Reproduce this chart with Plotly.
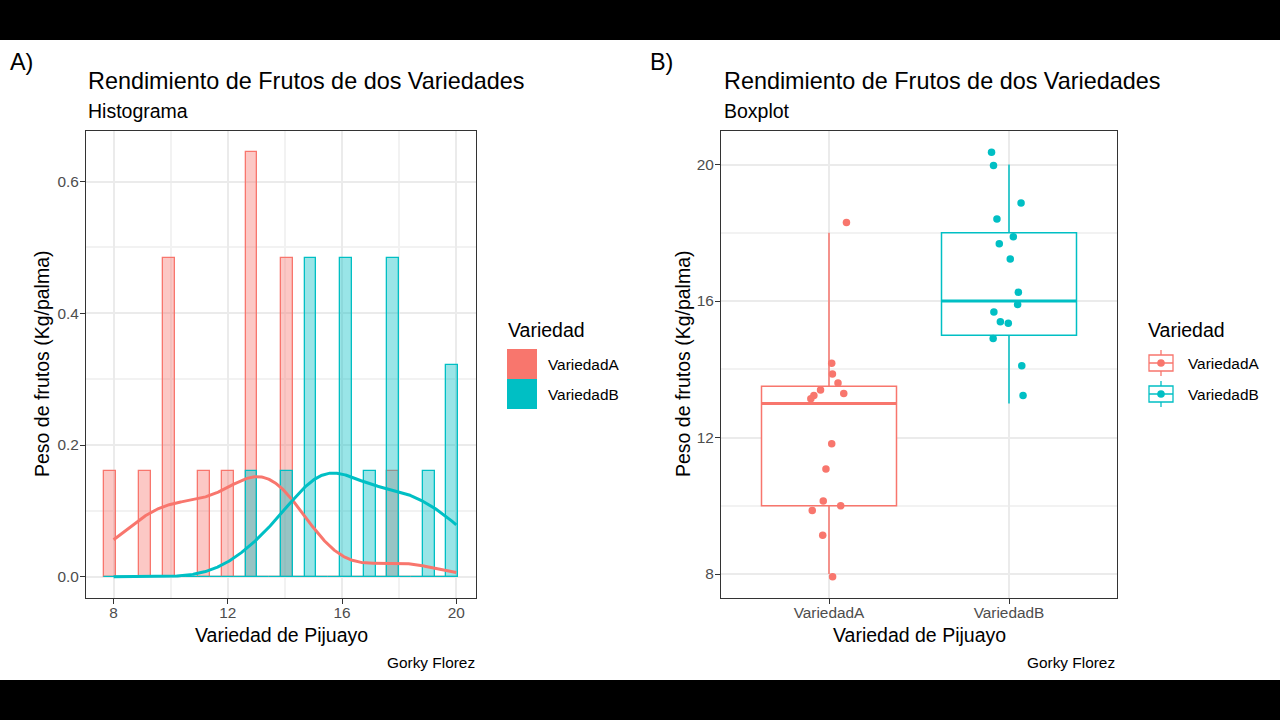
import numpy as np
import plotly.graph_objects as go

# ---------------- data ----------------
categories = ["VariedadA", "VariedadB"]
peso_A = [8, 9, 10, 10, 10, 11, 12, 13, 13, 13, 13, 14, 14, 14, 18]
peso_B = [13, 14, 15, 15, 15, 16, 16, 16, 17, 18, 18, 18, 19, 20, 20]

# jittered point positions
jit_y_A = [18.30, 14.18, 13.86, 13.60, 13.39, 13.29, 13.23, 13.14, 11.82, 11.08, 10.14, 10.00, 9.86, 9.14, 7.92]
jit_dx_A = [0.097, 0.015, 0.019, 0.050, -0.047, 0.082, -0.084, -0.101, 0.015, -0.017, -0.032, 0.065, -0.093, -0.035, 0.020]
jit_y_B = [20.36, 19.97, 18.87, 18.40, 17.88, 17.68, 17.23, 16.26, 15.90, 15.68, 15.39, 15.35, 14.90, 14.10, 13.23]
jit_dx_B = [-0.097, -0.086, 0.067, -0.067, 0.024, -0.054, 0.007, 0.052, 0.048, -0.084, -0.048, -0.004, -0.088, 0.071, 0.078]

hist_ticks = [8, 12, 16, 20]
dens_ticks = [0.0, 0.2, 0.4, 0.6]
box_ticks = [8, 12, 16, 20]

colors = ["#F8766D", "#00BFC4"]
fills = ["rgba(248,118,109,0.4)", "rgba(0,191,196,0.4)"]
groups = [peso_A, peso_B]
jit_y = [jit_y_A, jit_y_B]
jit_dx = [jit_dx_A, jit_dx_B]

W, H = 1280, 720
def px(x):
    return x / W
def py(y):
    return 1 - y / H

# ---------------- histogram bins (ggplot-style, bins = 30) ----------------
allv = np.array(peso_A + peso_B, dtype=float)
lo, hi = allv.min(), allv.max()
nb = 30
w = (hi - lo) / (nb - 1)
boundary = w / 2
origin = boundary + np.floor((lo - boundary) / w) * w
nbins = int(np.ceil((hi - origin) / w - 1e-8))
centers = origin + (np.arange(nbins) + 0.5) * w

def hist_density(vals):
    v = np.asarray(vals, dtype=float)
    idx = np.ceil((v - origin) / w - 1e-8).astype(int) - 1
    idx = np.clip(idx, 0, nbins - 1)
    counts = np.bincount(idx, minlength=nbins)
    return counts / (len(v) * w)

def kde(vals, grid):
    v = np.asarray(vals, dtype=float)
    sd = v.std(ddof=1)
    iqr = np.percentile(v, 75) - np.percentile(v, 25)
    bw = 0.9 * min(sd, iqr / 1.34) * len(v) ** -0.2
    z = (grid[:, None] - v[None, :]) / bw
    return np.exp(-0.5 * z ** 2).sum(axis=1) / (len(v) * bw * np.sqrt(2 * np.pi))

grid = np.linspace(lo, hi, 512)

fig = go.Figure()

for i, g in enumerate(groups):
    fig.add_trace(go.Bar(
        x=centers, y=hist_density(g), width=w,
        marker=dict(color=fills[i], line=dict(color=colors[i], width=1.3)),
        xaxis="x", yaxis="y", showlegend=False, name=categories[i]))
for i, g in enumerate(groups):
    fig.add_trace(go.Scatter(
        x=grid, y=kde(g, grid), mode="lines",
        line=dict(color=colors[i], width=3),
        xaxis="x", yaxis="y", showlegend=False, name=categories[i]))

# ---------------- boxplot ----------------
for i, g in enumerate(groups):
    v = np.asarray(g, dtype=float)
    q1, med, q3 = np.percentile(v, [25, 50, 75])
    iqr = q3 - q1
    lf = v[v >= q1 - 1.5 * iqr].min()
    uf = v[v <= q3 + 1.5 * iqr].max()
    pos = i + 1
    fig.add_trace(go.Box(
        x=[pos], q1=[q1], median=[med], q3=[q3], lowerfence=[lf], upperfence=[uf],
        width=0.75, whiskerwidth=0, fillcolor="white",
        line=dict(color=colors[i], width=1.5), boxpoints=False,
        xaxis="x2", yaxis="y2", showlegend=False, name=categories[i]))
    fig.add_trace(go.Scatter(
        x=[pos - 0.375, pos + 0.375], y=[med, med], mode="lines",
        line=dict(color=colors[i], width=3),
        xaxis="x2", yaxis="y2", showlegend=False, hoverinfo="skip"))
    fig.add_trace(go.Scatter(
        x=pos + np.array(jit_dx[i]), y=jit_y[i], mode="markers",
        marker=dict(color=colors[i], size=7.5),
        xaxis="x2", yaxis="y2", showlegend=False, name=categories[i]))

FONT = "Liberation Sans, Arial, sans-serif"
TICKC = "#4D4D4D"
GRID = "#EBEBEB"
MINOR = "#F2F2F2"
axis_common = dict(
    showline=True, linecolor="#333333", linewidth=1, mirror=True,
    ticks="outside", ticklen=5, tickcolor="#333333", tickwidth=1,
    tickfont=dict(family=FONT, size=15.4, color=TICKC),
    showgrid=True, gridcolor=GRID, gridwidth=2, zeroline=False,
)

# ggplot-style expansion
ymax_h = max(hist_density(g).max() for g in groups)
xlo_h, xhi_h = origin, origin + nbins * w
ex = 0.05 * (xhi_h - xlo_h)
ylo_b = min(min(jit_y_A), min(jit_y_B))
yhi_b = max(max(jit_y_A), max(jit_y_B))
eb = 0.05 * (yhi_b - ylo_b)

fig.update_layout(
    width=W, height=H, margin=dict(l=0, r=0, t=0, b=0),
    paper_bgcolor="white", plot_bgcolor="white",
    barmode="overlay", bargap=0,
    font=dict(family=FONT, color="black"),
    xaxis=dict(domain=[px(86), px(476)], range=[xlo_h - ex, xhi_h + ex],
               tickvals=hist_ticks, anchor="y", ticklabelstandoff=-4,
               minor=dict(tickmode="array", tickvals=[10, 14, 18], showgrid=True,
                          gridcolor=MINOR, gridwidth=1.5), **axis_common),
    yaxis=dict(domain=[py(598), py(131)], range=[-0.05 * ymax_h, 1.05 * ymax_h],
               tickvals=dens_ticks, tickformat=".1f", anchor="x", ticklabelstandoff=-2,
               minor=dict(tickmode="array", tickvals=[0.1, 0.3, 0.5], showgrid=True,
                          gridcolor=MINOR, gridwidth=1.5), **axis_common),
    xaxis2=dict(domain=[px(721), px(1117)], range=[0.4, 2.6], ticklabelstandoff=-4,
                tickvals=[1, 2], ticktext=categories, anchor="y2", **axis_common),
    yaxis2=dict(domain=[py(598), py(131)], range=[ylo_b - eb, yhi_b + eb],
                tickvals=box_ticks, anchor="x2", ticklabelstandoff=-2,
                minor=dict(tickmode="array", tickvals=[10, 14, 18], showgrid=True,
                           gridcolor=MINOR, gridwidth=1.5), **axis_common),
)

ann = []
def text(x, y, s, size, xanchor="left", color="black", angle=0):
    ann.append(dict(x=px(x), y=py(y), xref="paper", yref="paper", text=s,
                    showarrow=False, xanchor=xanchor, yanchor="middle",
                    textangle=angle, font=dict(family=FONT, size=size, color=color)))

for off, tag, sub in [(0, "A)", "Histograma"), (636, "B)", "Boxplot")]:
    text(8 + off + (4 if off else 0), 62, tag, 23.4)
    text(86 + off, 81, "Rendimiento de Frutos de dos Variedades", 23.4)
    text(86 + off, 111, sub, 19.5)
text(42, 364, "Peso de frutos (Kg/palma)", 19.5, xanchor="center", angle=-90)
text(683, 364, "Peso de frutos (Kg/palma)", 19.5, xanchor="center", angle=-90)
text(281, 635, "Variedad de Pijuayo", 19.5, xanchor="center")
text(919, 635, "Variedad de Pijuayo", 19.5, xanchor="center")
text(477, 662, "Gorky Florez", 15.4, xanchor="right")
text(1117, 662, "Gorky Florez", 15.4, xanchor="right")

shapes = []
# legend A (histogram)
text(506, 330, "Variedad", 19.5)
for i, c in enumerate(categories):
    y0 = 349 + 30 * i
    shapes.append(dict(type="rect", xref="paper", yref="paper",
                       x0=px(507), x1=px(537), y0=py(y0 + 30), y1=py(y0),
                       fillcolor=colors[i], line=dict(width=0)))
    text(546, y0 + 15, c, 15.4)
# legend B (boxplot)
text(1146, 330, "Variedad", 19.5)
for i, c in enumerate(categories):
    cy = 363 + 31 * i
    cx = 1161
    shapes.append(dict(type="line", xref="paper", yref="paper",
                       x0=px(cx), x1=px(cx), y0=py(cy + 13), y1=py(cy - 13),
                       line=dict(color=colors[i], width=1.3)))
    shapes.append(dict(type="rect", xref="paper", yref="paper",
                       x0=px(cx - 12), x1=px(cx + 12), y0=py(cy + 8), y1=py(cy - 8),
                       fillcolor="white", line=dict(color=colors[i], width=1.3)))
    shapes.append(dict(type="line", xref="paper", yref="paper",
                       x0=px(cx - 12), x1=px(cx + 12), y0=py(cy), y1=py(cy),
                       line=dict(color=colors[i], width=1.5)))
    shapes.append(dict(type="circle", xref="paper", yref="paper",
                       x0=px(cx - 3.8), x1=px(cx + 3.8), y0=py(cy + 3.8), y1=py(cy - 3.8),
                       fillcolor=colors[i], line=dict(width=0)))
    text(1186, cy, c, 15.4)

# black letterbox bars
shapes.append(dict(type="rect", xref="paper", yref="paper", x0=0, x1=1, y0=py(40), y1=1,
                   fillcolor="black", line=dict(width=0), layer="above"))
shapes.append(dict(type="rect", xref="paper", yref="paper", x0=0, x1=1, y0=0, y1=py(680),
                   fillcolor="black", line=dict(width=0), layer="above"))

fig.update_layout(annotations=ann, shapes=shapes)
fig.write_html("out.html")
